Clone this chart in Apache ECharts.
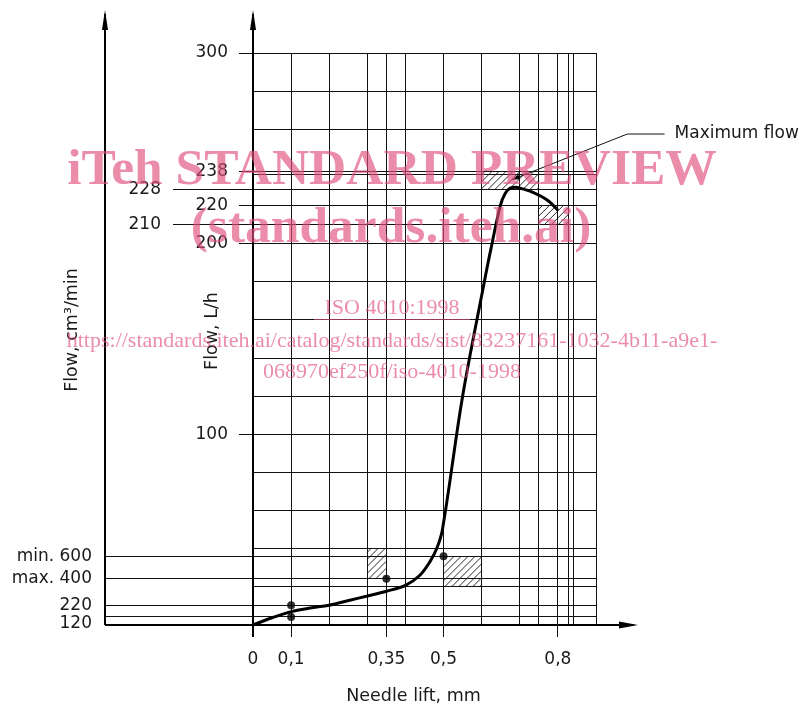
<!DOCTYPE html>
<html>
<head>
<meta charset="utf-8">
<title>Flow vs needle lift</title>
<script src="https://cdn.jsdelivr.net/npm/echarts@6/dist/echarts.min.js"></script>
<style>
html, body { margin: 0; padding: 0; background: #fff; }
#main { width: 806px; height: 706px; }
</style>
</head>
<body>
<div id="main"></div>
<script>
// flow curve, needle lift (mm) against flow (L/h)
const liftMm = [0, 0.05, 0.1, 0.15, 0.2, 0.254, 0.3, 0.35, 0.4, 0.438, 0.464, 0.482, 0.497, 0.55, 0.607, 0.624, 0.649, 0.662, 0.675, 0.69, 0.701, 0.736, 0.771, 0.8]
const flowLh = [0, 3.8, 7, 8.9, 10.4, 13, 15.2, 17.7, 20.8, 26.1, 33.1, 40.1, 50, 120, 180, 197, 220, 226.5, 229.1, 229.6, 229.1, 226.8, 223, 217.5]

// check points on the curve
const checkLift = [0.1, 0.1, 0.35, 0.5]
const checkFlow = [10.3, 4.2, 24.3, 36]
const maxFlowPoint = [0.679, 233.5]

// grid
const liftGrid = [0, 0.1, 0.2, 0.3, 0.35, 0.4, 0.5, 0.6, 0.7, 0.75, 0.8, 0.828, 0.841, 0.9]
const liftTicks = [0, 0.1, 0.35, 0.5, 0.8]
const liftTickLabels = ['0', '0,1', '0,35', '0,5', '0,8']

const flowGrid = [20, 40, 60, 80, 100, 120, 140, 160, 180, 200, 220, 236.5, 238, 260, 280, 300]
const flowTicks = [100, 200, 220, 238, 300]
const flowTickLabels = ['100', '200', '220', '238', '300']

// cm3/min levels, placed at their height on the L/h scale
const cmLevels = [36, 24.3, 10.3, 4.2]
const cmLabels = ['min. 600', 'max. 400', '220', '120']
const upperLevels = [228.3, 210.2]
const upperLabels = ['228', '210']

// tolerance boxes: lift from, lift to, flow from, flow to
const hatchBoxes = [
  [0.3, 0.35, 24.3, 40],
  [0.5, 0.6, 20, 36],
  [0.6, 0.75, 228.3, 238],
  [0.75, 0.828, 210.2, 220]
]

// leader for the "Maximum flow" note
const leaderPath = [maxFlowPoint, [0.982, 257.5], [1.08, 257.5]]

const LEFT_AXIS_OFFSET = 148
const UPPER_AXIS_OFFSET = 80
const LABEL_TICK = 14
const AXIS_TOP = 10
const HATCH_STEP = 7
const FONT = 'DejaVu Sans'
const INK = '#111'

const crisp = v => Math.round(v - 0.5) + 0.5
const pick = (vals, labels) => v => labels[vals.indexOf(v)]

function drawFrame(params, api) {
  const [x0, y0] = api.coord([0, 0])
  const xEnd = api.coord([liftGrid[liftGrid.length - 1], 0])[0]
  const yTop = api.coord([0, flowGrid[flowGrid.length - 1]])[1]
  const thin = { stroke: INK, lineWidth: 1 }
  const kids = []
  const hline = (v, from) => {
    const y = crisp(api.coord([0, v])[1])
    kids.push({ type: 'line', shape: { x1: from, y1: y, x2: xEnd, y2: y }, style: thin })
  }
  liftGrid.forEach(v => {
    const x = crisp(api.coord([v, 0])[0])
    const down = liftTicks.includes(v) ? 12 : 0
    kids.push({ type: 'line', shape: { x1: x, y1: yTop, x2: x, y2: y0 + down }, style: thin })
  })
  flowGrid.forEach(v => hline(v, flowTicks.includes(v) ? x0 - LABEL_TICK : x0))
  cmLevels.forEach(v => hline(v, x0 - LEFT_AXIS_OFFSET))
  upperLevels.forEach(v => hline(v, x0 - UPPER_AXIS_OFFSET))

  // axes with arrows
  const axis = { stroke: '#000', lineWidth: 2 }
  const xl = Math.round(x0 - LEFT_AXIS_OFFSET), xi = Math.round(x0), ya = Math.round(y0)
  const xTip = xEnd + 42
  kids.push({ type: 'line', shape: { x1: xl, y1: ya, x2: xTip - 4, y2: ya }, style: axis })
  kids.push({ type: 'polygon', shape: { points: [[xTip, ya], [xTip - 19, ya - 3.5], [xTip - 19, ya + 3.5]] }, style: { fill: '#000' } })
  ;[xl, xi].forEach(x => {
    kids.push({ type: 'line', shape: { x1: x, y1: x === xi ? ya + 12 : ya, x2: x, y2: AXIS_TOP + 4 }, style: axis })
    kids.push({ type: 'polygon', shape: { points: [[x, AXIS_TOP], [x - 3, AXIS_TOP + 20], [x + 3, AXIS_TOP + 20]] }, style: { fill: '#000' } })
  })
  return { type: 'group', children: kids }
}

function drawHatch(params, api) {
  const [x0, y0] = api.coord([api.value(0), api.value(3)])
  const [x1, y1] = api.coord([api.value(1), api.value(2)])
  const kids = []
  for (let c = x0 + y0 + HATCH_STEP / 2; c < x1 + y1; c += HATCH_STEP) {
    const ax = Math.max(x0, c - y1)
    const bx = Math.min(x1, c - y0)
    if (bx <= ax) continue
    kids.push({ type: 'line', shape: { x1: ax, y1: c - ax, x2: bx, y2: c - bx }, style: { stroke: INK, lineWidth: 0.9 } })
  }
  return { type: 'group', children: kids }
}

function drawLeader(params, api) {
  const pts = leaderPath.map(p => api.coord(p))
  const [p0, p1] = pts
  const len = Math.hypot(p1[0] - p0[0], p1[1] - p0[1])
  const ux = (p1[0] - p0[0]) / len, uy = (p1[1] - p0[1]) / len
  const bx = p0[0] + ux * 8, by = p0[1] + uy * 8
  const end = pts[pts.length - 1]
  return {
    type: 'group',
    children: [
      { type: 'polyline', shape: { points: pts }, style: { stroke: INK, lineWidth: 1, fill: null } },
      { type: 'polygon', shape: { points: [p0, [bx - uy * 2.5, by + ux * 2.5], [bx + uy * 2.5, by - ux * 2.5]] }, style: { fill: '#000' } },
      { type: 'text', x: end[0] + 10, y: end[1], style: { text: 'Maximum flow', fill: '#1a1a1a', font: '17px "' + FONT + '"', verticalAlign: 'middle' } }
    ]
  }
}

const labelStyle = { fontFamily: FONT, fontSize: 17, color: '#1a1a1a' }
const nameStyle = { fontFamily: FONT, fontSize: 17.5, color: '#1a1a1a' }

const chart = echarts.init(document.getElementById('main'))
const wm = 'rgba(224, 80, 124, 0.65)'

const option = {
  animation: false,
  backgroundColor: '#fff',
  grid: { left: 253, top: 53, width: 343, height: 572, outerBoundsMode: 'none' },
  xAxis: {
    type: 'value', min: 0, max: 0.9,
    axisLine: { show: false }, axisTick: { show: false }, splitLine: { show: false },
    axisLabel: Object.assign({ customValues: liftTicks, formatter: pick(liftTicks, liftTickLabels), margin: 26 }, labelStyle),
    name: 'Needle lift, mm', nameLocation: 'middle', nameGap: 62,
    nameTextStyle: Object.assign({ padding: [0, 22, 0, 0] }, nameStyle)
  },
  yAxis: [
    {
      type: 'value', min: 0, max: 300, position: 'left',
      axisLine: { show: false }, axisTick: { show: false }, splitLine: { show: false },
      axisLabel: Object.assign({ customValues: flowTicks, formatter: pick(flowTicks, flowTickLabels), margin: 25 }, labelStyle),
      name: 'Flow, L/h', nameLocation: 'middle', nameGap: 32, nameMoveOverlap: false,
      nameTextStyle: Object.assign({ padding: [0, 0, 0, 16] }, nameStyle)
    },
    {
      type: 'value', min: 0, max: 300, position: 'left', offset: LEFT_AXIS_OFFSET,
      axisLine: { show: false }, axisTick: { show: false }, splitLine: { show: false },
      axisLabel: Object.assign({
        customValues: cmLevels,
        formatter: v => v === cmLevels[3] ? '{low|' + cmLabels[3] + '}' : pick(cmLevels, cmLabels)(v),
        rich: { low: { padding: [14, 0, 0, 0] } },
        margin: 13
      }, labelStyle),
      name: 'Flow, cm³/min', nameLocation: 'middle', nameGap: 24, nameMoveOverlap: false,
      nameTextStyle: Object.assign({ padding: [0, 0, 0, 18] }, nameStyle)
    },
    {
      type: 'value', min: 0, max: 300, position: 'left', offset: UPPER_AXIS_OFFSET,
      axisLine: { show: false }, axisTick: { show: false }, splitLine: { show: false },
      axisLabel: Object.assign({ customValues: upperLevels, formatter: pick(upperLevels, upperLabels), margin: 12 }, labelStyle)
    }
  ],
  series: [
    { type: 'custom', name: 'frame', renderItem: drawFrame, data: [[0, 0]], clip: false, silent: true, z: 1 },
    { type: 'custom', name: 'tolerance', renderItem: drawHatch, data: hatchBoxes, encode: { x: [0, 1], y: [2, 3] }, clip: false, silent: true, z: 2 },
    {
      type: 'line', name: 'flow', data: liftMm.map((x, i) => [x, flowLh[i]]),
      smooth: 0.35, showSymbol: false, symbol: 'none',
      lineStyle: { color: '#000', width: 3 }, z: 3
    },
    {
      type: 'scatter', name: 'checks', data: checkLift.map((x, i) => [x, checkFlow[i]]),
      symbolSize: 8, itemStyle: { color: '#000' }, z: 4
    },
    { type: 'custom', name: 'leader', renderItem: drawLeader, data: [[0, 0]], clip: false, silent: true, z: 4 }
  ],
  graphic: [
    { type: 'text', x: 392, y: 171, z: 100, style: { text: 'iTeh STANDARD PREVIEW', font: 'bold 51.5px "Liberation Serif"', fill: wm, align: 'center', verticalAlign: 'middle' } },
    { type: 'text', x: 391, y: 229, z: 100, style: { text: '(standards.iteh.ai)', font: 'bold 51.5px "Liberation Serif"', fill: wm, align: 'center', verticalAlign: 'middle' } },
    { type: 'text', x: 392, y: 308, z: 100, style: { text: 'ISO 4010:1998', font: '22px "Liberation Serif"', fill: wm, align: 'center', verticalAlign: 'middle' } },
    { type: 'line', z: 100, shape: { x1: 314, y1: 319.5, x2: 470, y2: 319.5 }, style: { stroke: wm, lineWidth: 1 } },
    { type: 'text', x: 392, y: 341, z: 100, style: { text: 'https://standards.iteh.ai/catalog/standards/sist/83237161-1032-4b11-a9e1-', font: '22px "Liberation Serif"', fill: wm, align: 'center', verticalAlign: 'middle' } },
    { type: 'text', x: 392, y: 372, z: 100, style: { text: '068970ef250f/iso-4010-1998', font: '22px "Liberation Serif"', fill: wm, align: 'center', verticalAlign: 'middle' } }
  ]
}

chart.setOption(option)
</script>
</body>
</html>
